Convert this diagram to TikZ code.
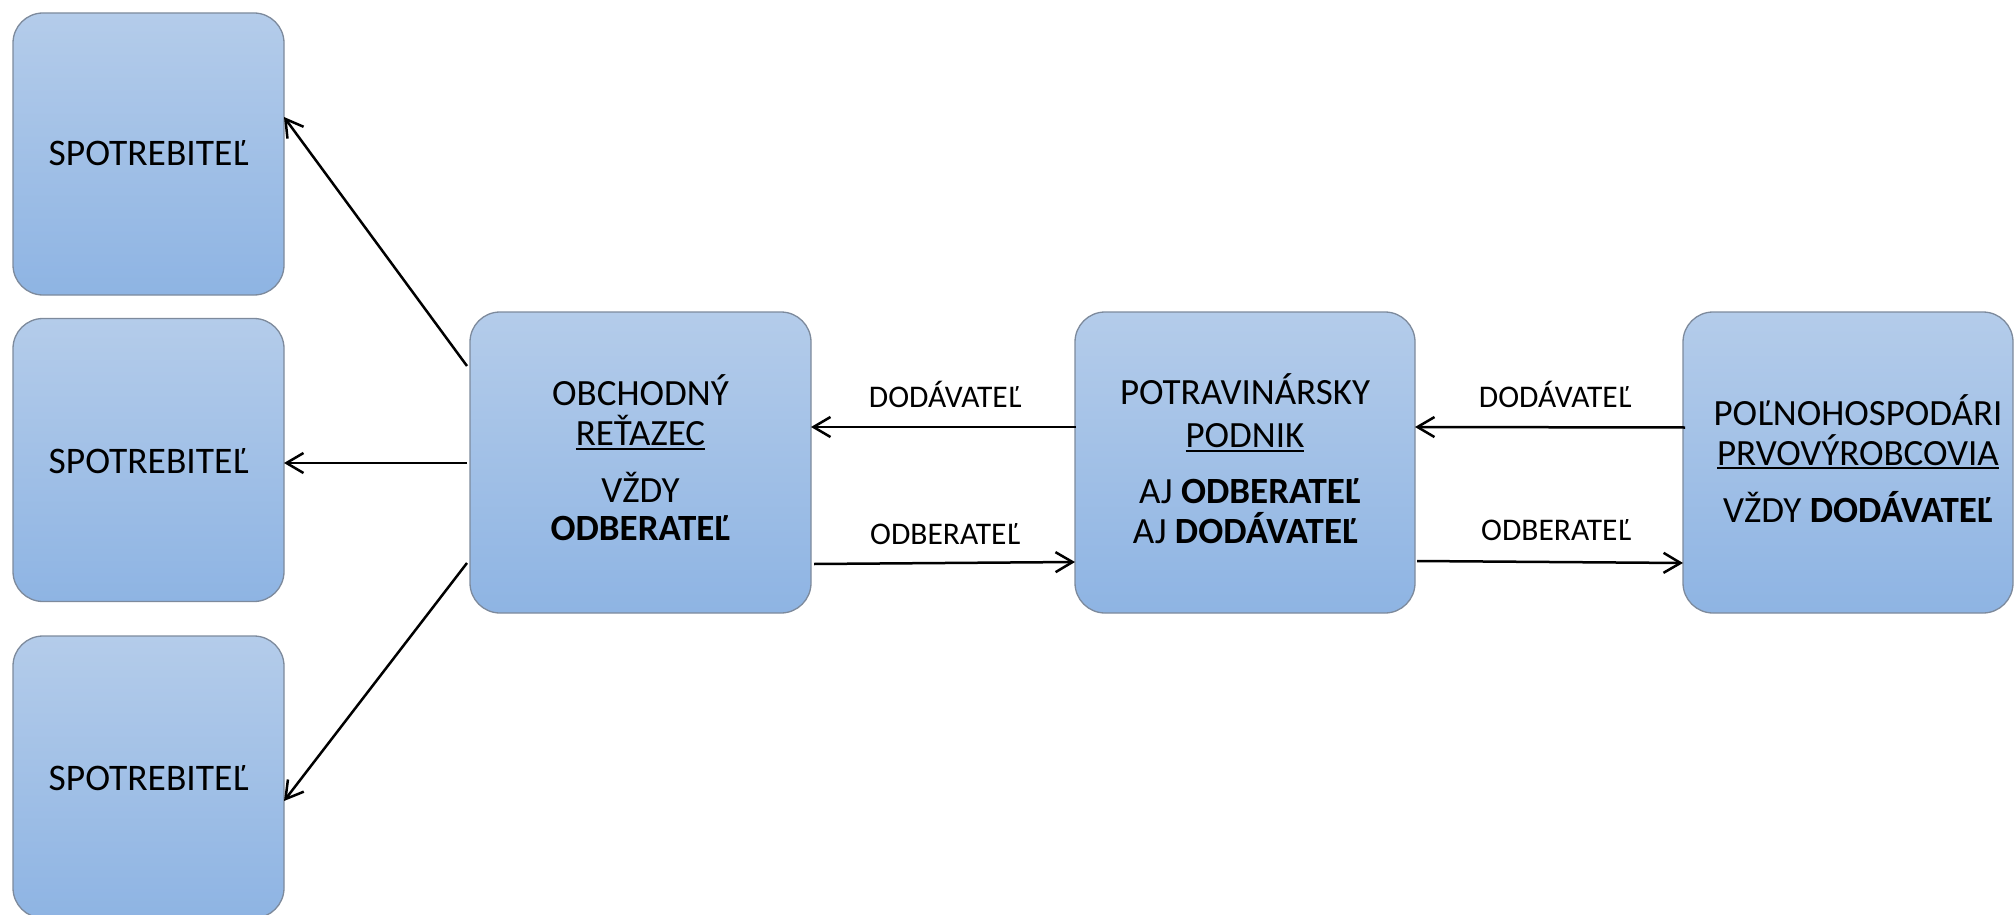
\documentclass[tikz,border=0pt]{standalone}
\usepackage{fontspec}
\setmainfont{Carlito}
\usetikzlibrary{arrows.meta,calc}
\definecolor{boxtop}{HTML}{B4CCEA}
\definecolor{boxbot}{HTML}{8EB4E3}
\definecolor{boxline}{HTML}{7D8A9C}
\begin{document}
\begin{tikzpicture}[x=1pt,y=-1pt,
  box/.style={draw=boxline,line width=1.3pt,rounded corners=30pt,top color=boxtop,bottom color=boxbot,inner sep=0pt,outer sep=0pt},
  big/.style={font=\fontsize{37}{41}\selectfont,inner sep=0pt,outer sep=0pt,anchor=base},
  cons/.style={font=\fontsize{37.5}{41}\selectfont,inner sep=0pt,outer sep=0pt,anchor=base},
  lab/.style={font=\fontsize{31.5}{35}\selectfont,inner sep=0pt,outer sep=0pt,anchor=base},
  arr/.style={line width=2.5pt,-{Straight Barb[length=17pt,width=20pt]}},
  uline/.style={line width=1.8pt}]
\useasboundingbox (0,0) rectangle (2014,915);

% consumer boxes
\node[box,minimum width=271pt,minimum height=282pt] (c1) at (148.5,154) {};
\node[box,minimum width=271pt,minimum height=283pt] (c2) at (148.5,460) {};
\node[box,minimum width=271pt,minimum height=282pt] (c3) at (148.5,777) {};
\node[cons] (c1t) at (148.5,166) {SPOTREBITEĽ};
\node[cons] (c2t) at (148.5,473) {SPOTREBITEĽ};
\node[cons] (c3t) at (148.5,790) {SPOTREBITEĽ};

% main boxes
\node[box,minimum width=341pt,minimum height=301pt] (ob) at (640.5,462.5) {};
\node[box,minimum width=340pt,minimum height=301pt] (po) at (1245,462.5) {};
\node[box,minimum width=330pt,minimum height=301pt] (pl) at (1848,462.5) {};

% text of OBCHODNÝ REŤAZEC
\node[big] (ob1) at (640.5,405) {OBCHODNÝ};
\node[big] (ob2) at (640.5,445) {REŤAZEC};
\node[big] (ob3) at (640.5,502) {VŽDY};
\node[big] (ob4) at (640.5,540) {\bfseries ODBERATEĽ};
\draw[uline] ($(ob2.base west)+(0,4)$) -- ($(ob2.base east)+(0,4)$);

% text of POTRAVINÁRSKY PODNIK
\node[big] (po1) at (1245,404) {POTRAVINÁRSKY};
\node[big] (po2) at (1245,447) {PODNIK};
\node[big] (po3) at (1250,503) {AJ \textbf{ODBERATEĽ}};
\node[big] (po4) at (1245.5,543) {AJ \textbf{DODÁVATEĽ}};
\draw[uline] ($(po2.base west)+(0,4)$) -- ($(po2.base east)+(0,4)$);

% text of POĽNOHOSPODÁRI
\node[big] (pl1) at (1858,425) {POĽNOHOSPODÁRI};
\node[big] (pl2) at (1858,465) {PRVOVÝROBCOVIA};
\node[big] (pl3) at (1858,522) {VŽDY \textbf{DODÁVATEĽ}};
\draw[uline] ($(pl2.base west)+(0,3)$) -- ($(pl2.base east)+(0,3)$);

% connectors to consumers
\draw[arr] ($(ob.west)+(-3,-96.5)$) -- ($(c1.east)+(0,-37)$);
\draw[arr] ($(ob.west)+(-3,0.5)$) -- ($(c2.east)+(0,3)$);
\draw[arr] ($(ob.west)+(-3,100.5)$) -- ($(c3.east)+(0,24)$);

% connectors between main boxes
\draw[arr] ($(po.west)+(1,-35.5)$) -- ($(ob.east)+(0,-35.5)$);
\draw[arr] ($(ob.east)+(3,101.5)$) -- ($(po.west)+(0,99.5)$);
\draw[arr] ($(pl.west)+(2,-35)$) -- ($(po.east)+(0,-35.5)$);
\draw[arr] ($(po.east)+(2,98.5)$) -- ($(pl.west)+(0,100.5)$);

% labels
\node[lab] (l1) at (945,407) {DODÁVATEĽ};
\node[lab] (l2) at (945,544) {ODBERATEĽ};
\node[lab] (l3) at (1555,407) {DODÁVATEĽ};
\node[lab] (l4) at (1556,540) {ODBERATEĽ};
\end{tikzpicture}
\end{document}
